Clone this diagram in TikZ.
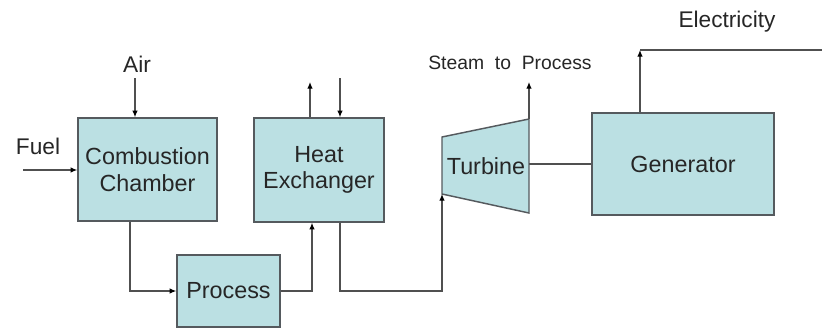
\documentclass[tikz,border=0pt]{standalone}
\usepackage{fontspec}
\setmainfont{Liberation Sans}
\usetikzlibrary{arrows.meta,calc}
\definecolor{boxfill}{HTML}{BBE0E3}
\definecolor{boxline}{HTML}{555A5E}
\definecolor{wire}{HTML}{505050}
\definecolor{txt}{HTML}{262626}
\tikzset{
  unit/.style={draw=boxline, fill=boxfill, line width=1.1pt, align=center, text=txt,
    font=\fontsize{17.5}{20}\selectfont, inner sep=0pt},
  lbl/.style={text=txt, font=\fontsize{17}{20}\selectfont, inner sep=0pt},
  flow/.style={draw=wire, line width=0.9pt, -{Latex[length=5pt,width=4.2pt,color=black]}},
  wireline/.style={draw=wire, line width=0.9pt}
}
\begin{document}
\begin{tikzpicture}[x=0.75pt, y=-0.75pt]
		\useasboundingbox (0,0) rectangle (822,329);
		
		% --- MAIN UNITS ---
		\node[unit, minimum width=139*0.75pt, minimum height=103*0.75pt] (cc) at (147.5,169.5) {Combustion\\Chamber};
		\node[unit, minimum width=130*0.75pt, minimum height=104*0.75pt] (he) at (319,170) {Heat\\Exchanger};
		\node[unit, minimum width=103*0.75pt, minimum height=72*0.75pt] (proc) at (228.5,291) {Process};
		\node[unit, minimum width=182*0.75pt, minimum height=102*0.75pt] (gen) at (683,164) {Generator};
		
		% --- TURBINE (trapezoid) ---
		\coordinate (t1) at (442,137);
		\coordinate (t2) at (529,119);
		\coordinate (t3) at (529,213);
		\coordinate (tin) at (442,194);
		\coordinate (tout) at (529,164);
		\draw[draw=boxline, fill=boxfill, line width=1.1pt] (t1) -- (t2) -- (t3) -- (tin) -- cycle;
		\node[lbl, font=\fontsize{17.5}{20}\selectfont] (turb) at (486,166) {Turbine};
		
		% --- INPUTS ---
		\node[lbl] (air) at (137,64) {Air};
		\coordinate (airin) at (135,78);
		\draw[flow] (airin) -- (airin |- cc.north);
		
		\node[lbl] (fuel) at (38,146) {Fuel};
		\coordinate (fuelin) at (23,170);
		\draw[flow] (fuelin) -- (fuelin -| cc.west);
		
		% --- HEAT EXCHANGER TOP PORTS ---
		\coordinate (heout) at (310,82);
		\coordinate (hein) at (340,78);
		\draw[flow] (heout |- he.north) -- (heout);
		\draw[flow] (hein) -- (hein |- he.north);
		
		% --- LOOP THROUGH PROCESS ---
		\draw[flow] ($(cc.south)+(-17.5,0)$) |- (proc.west);
		\draw[flow] (proc.east) -| ($(he.south)+(-7,0)$);
		\draw[flow] ($(he.south)+(21,0)$) |- (tin |- proc.east) -- (tin);
		
		% --- TURBINE OUTLETS ---
		\coordinate (steam) at (529,82);
		\draw[flow] (t2) -- (steam);
		\node[lbl, font=\fontsize{14.5}{17}\selectfont] (steamlbl) at (510,63) {Steam\ \ to\ \ Process};
		\draw[wireline] (tout) -- (gen.west);
		
		% --- ELECTRICITY ---
		\coordinate (elec) at (640,50);
		\coordinate (elecend) at (822,50);
		\draw[flow] (elec |- gen.north) -- (elec);
		\draw[wireline] (elec) -- (elecend);
		\node[lbl] (eleclbl) at (727,22) {Electricity};
		
	\end{tikzpicture}
\end{document}
